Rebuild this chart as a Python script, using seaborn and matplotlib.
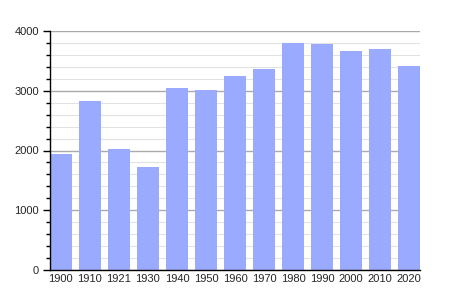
import matplotlib
matplotlib.use("Agg")
import matplotlib.pyplot as plt
import seaborn as sns
import pandas as pd
from matplotlib.ticker import MultipleLocator

years = ["1900", "1910", "1921", "1930", "1940", "1950", "1960", "1970", "1980", "1990", "2000", "2010", "2020"]
population = [1940, 2828, 2025, 1724, 3046, 3007, 3247, 3364, 3804, 3782, 3665, 3699, 3414]
yticks = [0, 1000, 2000, 3000, 4000]

df = pd.DataFrame({"year": years, "pop": population})

sns.set_style("white")
plt.rcParams['font.family'] = ['Liberation Sans', 'DejaVu Sans']

fig = plt.figure(figsize=(4.5, 3), dpi=100)
ax = fig.add_axes([50/450, 30/300, 370/450, 239/300])

sns.barplot(data=df, x="year", y="pop", color="#99aaff", saturation=1, width=0.75,
            edgecolor="none", linewidth=0, ax=ax, zorder=3)

ax.set_ylim(0, 4000)
ax.set_xlim(-0.375, len(years) - 1 + 0.375)
ax.set_yticks(yticks)
ax.yaxis.set_minor_locator(MultipleLocator(200))
ax.grid(axis="y", which="major", color="#aaaaaa", linewidth=1, zorder=0)
ax.grid(axis="y", which="minor", color="#e2e2e2", linewidth=0.8, zorder=0)
ax.set_axisbelow(True)
ax.set_xlabel("")
ax.set_ylabel("")

for s in ["top", "right"]:
    ax.spines[s].set_visible(False)
for s in ["left", "bottom"]:
    ax.spines[s].set_color("black")
    ax.spines[s].set_linewidth(1)
    ax.spines[s].set_zorder(4)

ax.tick_params(axis="y", which="major", direction="out", length=5, width=1, color="black", labelsize=8, pad=3, left=True)
ax.tick_params(axis="y", which="minor", direction="out", length=3, width=1, color="black", left=True)
ax.tick_params(axis="x", length=0, labelsize=8, pad=3)

fig.savefig("out.png", dpi=100)
